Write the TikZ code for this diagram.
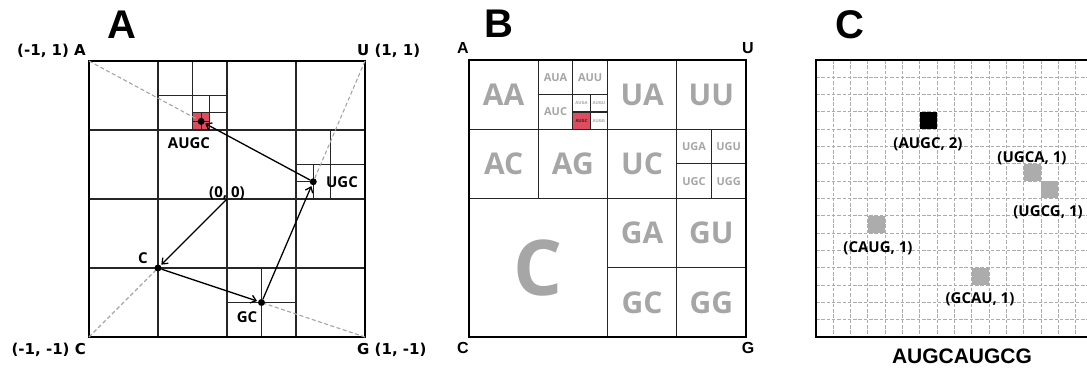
\documentclass[tikz,border=0pt]{standalone}
\usepackage{fontspec}
\usetikzlibrary{arrows.meta}
\newfontfamily\osans{Open Sans}
\newfontfamily\dvsans{DejaVu Sans}
\newfontfamily\lsans{Liberation Sans}
\definecolor{txtgray}{RGB}{166,166,166}
\definecolor{dashgray}{RGB}{165,165,165}
\definecolor{gridgray}{RGB}{172,172,172}
\definecolor{cellred}{RGB}{222,76,94}
\definecolor{sqgray}{RGB}{172,172,172}
\tikzset{
  frame/.style={line width=2.8pt},
  cell/.style={line width=1.15pt, draw=black!85},
  diag/.style={draw=dashgray, line width=1.1pt, dash pattern=on 4pt off 2.5pt},
  gridl/.style={draw=gridgray, line width=0.9pt, dash pattern=on 3.5pt off 1.8pt},
  dot/.style={circle, fill=black, inner sep=0pt, minimum size=7pt},
  arr/.style={line width=1.3pt, -{Straight Barb[length=5pt,width=8pt]}, shorten >=1pt},
  heading/.style={font=\lsans\bfseries\fontsize{40}{40}\selectfont, anchor=base, inner sep=0pt},
  corner/.style={font=\dvsans\bfseries\fontsize{15}{18}\selectfont, inner sep=0pt},
  cornerB/.style={font=\lsans\bfseries\fontsize{16}{18}\selectfont, anchor=base, inner sep=0pt},
  lab/.style={font=\osans\bfseries\fontsize{15}{18}\selectfont, anchor=base, inner sep=0pt},
  txtL/.style={text=txtgray, font=\osans\bfseries\fontsize{30}{30}\selectfont, inner sep=0pt},
  txtM/.style={text=txtgray, font=\osans\bfseries\fontsize{11}{11}\selectfont, inner sep=0pt},
  txtS/.style={text=txtgray, font=\osans\bfseries\fontsize{4.3}{4.3}\selectfont, inner sep=0pt},
  txtC/.style={text=txtgray, font=\osans\bfseries\fontsize{77}{77}\selectfont, inner sep=0pt},
  seq/.style={font=\lsans\bfseries\fontsize{21}{21}\selectfont, anchor=base, inner sep=0pt},
}
\begin{document}
\begin{tikzpicture}[x=1pt,y=-1pt]
\useasboundingbox (0,0) rectangle (1087,370);

% ---------------- Panel A ----------------
\node[heading] (hA) at (122,38) {A};
\begin{scope}[shift={(227,199)},x=138pt,y=138pt]
  \fill[cellred] (-0.25,0.5) rectangle (-0.125,0.625);
  \foreach \v in {-0.5,0,0.5} {
    \draw[cell] (\v,-1) -- (\v,1);
    \draw[cell] (-1,\v) -- (1,\v);
  }
  % AU
  \draw[cell] (-0.25,0.5) -- (-0.25,1);
  \draw[cell] (-0.5,0.75) -- (0,0.75);
  % AUG
  \draw[cell] (-0.125,0.5) -- (-0.125,0.75);
  \draw[cell] (-0.25,0.625) -- (0,0.625);
  % AUGC
  \draw[cell] (-0.1875,0.5) -- (-0.1875,0.625);
  \draw[cell] (-0.25,0.5625) -- (-0.125,0.5625);
  % UG
  \draw[cell] (0.75,0) -- (0.75,0.5);
  \draw[cell] (0.5,0.25) -- (1,0.25);
  % UGC
  \draw[cell] (0.625,0) -- (0.625,0.25);
  \draw[cell] (0.5,0.125) -- (0.625,0.125);
  % GC
  \draw[cell] (0.25,-1) -- (0.25,-0.5);
  \draw[cell] (0,-0.75) -- (0.5,-0.75);
  \draw[frame] (-1,-1) rectangle (1,1);
  \coordinate (cA) at (-1,1);
  \coordinate (cU) at (1,1);
  \coordinate (cC) at (-1,-1);
  \coordinate (cG) at (1,-1);
  \coordinate (o) at (0,0);
  \coordinate (qC) at (-0.5,-0.5);
  \coordinate (qGC) at (0.25,-0.75);
  \coordinate (qUGC) at (0.625,0.125);
  \coordinate (qAUGC) at (-0.1875,0.5625);
  \draw[diag] (cA) -- (qAUGC);
  \draw[diag] (cU) -- (qUGC);
  \draw[diag] (cC) -- (qC);
  \draw[diag] (cG) -- (qGC);
  \node[dot] (pC) at (qC) {};
  \node[dot] (pGC) at (qGC) {};
  \node[dot] (pUGC) at (qUGC) {};
  \node[dot] (pAUGC) at (qAUGC) {};
  \draw[arr] (o) -- (pC);
  \draw[arr] (pC) -- (pGC);
  \draw[arr] (pGC) -- (pUGC);
  \draw[arr] (pUGC) -- (pAUGC);
\end{scope}
\node[corner, anchor=base east] (lA) at (86,55) {(-1, 1) A};
\node[corner, anchor=base west] (lU) at (357,55) {U (1, 1)};
\node[corner, anchor=base east] (lC) at (86,354) {(-1, -1) C};
\node[corner, anchor=base west] (lG) at (357,354) {G (1, -1)};
\node[lab] (t00) at (227,197) {(0, 0)};
\node[lab] (tC) at (143,263) {C};
\node[lab] (tGC) at (247,322) {GC};
\node[lab] (tUGC) at (342,187) {UGC};
\node[lab] (tAUGC) at (189,148) {AUGC};

% ---------------- Panel B ----------------
\node[heading] (hB) at (499,37) {B};
\begin{scope}[shift={(607.5,198.5)},x=138.5pt,y=138.5pt]
  \fill[cellred] (-0.25,0.5) rectangle (-0.125,0.625);
  \draw[cell] (-0.5,0) -- (-0.5,1);
  \draw[cell] (0,-1) -- (0,1);
  \draw[cell] (0.5,-1) -- (0.5,1);
  \draw[cell] (-1,0.5) -- (1,0.5);
  \draw[cell] (-1,0) -- (1,0);
  \draw[cell] (0,-0.5) -- (1,-0.5);
  \draw[cell] (-0.25,0.5) -- (-0.25,1);
  \draw[cell] (-0.5,0.75) -- (0,0.75);
  \draw[cell] (-0.125,0.5) -- (-0.125,0.75);
  \draw[cell] (-0.25,0.625) -- (0,0.625);
  \draw[cell] (0.75,0) -- (0.75,0.5);
  \draw[cell] (0.5,0.25) -- (1,0.25);
  \draw[frame] (-1,-1) rectangle (1,1);
  \node[txtL] (bAA) at (-0.75,0.75) {AA};
  \node[txtM] (bAUA) at (-0.375,0.875) {AUA};
  \node[txtM] (bAUU) at (-0.125,0.875) {AUU};
  \node[txtM] (bAUC) at (-0.375,0.625) {AUC};
  \node[txtS] (bAUGA) at (-0.1875,0.6875) {AUGA};
  \node[txtS] (bAUGU) at (-0.0625,0.6875) {AUGU};
  \node[txtS, text=black!85] (bAUGC) at (-0.1875,0.5625) {AUGC};
  \node[txtS] (bAUGG) at (-0.0625,0.5625) {AUGG};
  \node[txtL] (bAC) at (-0.75,0.25) {AC};
  \node[txtL] (bAG) at (-0.25,0.25) {AG};
  \node[txtL] (bUA) at (0.25,0.75) {UA};
  \node[txtL] (bUU) at (0.75,0.75) {UU};
  \node[txtL] (bUC) at (0.25,0.25) {UC};
  \node[txtM] (bUGA) at (0.625,0.375) {UGA};
  \node[txtM] (bUGU) at (0.875,0.375) {UGU};
  \node[txtM] (bUGC) at (0.625,0.125) {UGC};
  \node[txtM] (bUGG) at (0.875,0.125) {UGG};
  \node[txtC] (bC) at (-0.5,-0.5) {C};
  \node[txtL] (bGA) at (0.25,-0.25) {GA};
  \node[txtL] (bGU) at (0.75,-0.25) {GU};
  \node[txtL] (bGC) at (0.25,-0.75) {GC};
  \node[txtL] (bGG) at (0.75,-0.75) {GG};
\end{scope}
\node[cornerB] (kA) at (463,53) {A};
\node[cornerB] (kU) at (748,53) {U};
\node[cornerB] (kC) at (463,353) {C};
\node[cornerB] (kG) at (748,353) {G};

% ---------------- Panel C ----------------
\node[heading] (hC) at (850,38) {C};
\begin{scope}
\clip (0,0) rectangle (1087,370);
\begin{scope}[shift={(816,60)},x=17.31pt,y=-17.31pt]
  \foreach \i in {1,...,15} {
    \draw[gridl] (\i,0) -- (\i,16);
    \draw[gridl] (0,\i) -- (16,\i);
  }
  \fill[black] (6,3) rectangle (7,4);
  \fill[sqgray] (12,6) rectangle (13,7);
  \fill[sqgray] (13,7) rectangle (14,8);
  \fill[sqgray] (3,9) rectangle (4,10);
  \fill[sqgray] (9,12) rectangle (10,13);
  \draw[frame] (0,0) rectangle (16,16);
\end{scope}
\end{scope}
\node[lab] (cAUGC) at (928,148) {(AUGC, 2)};
\node[lab] (cUGCA) at (1032,162) {(UGCA, 1)};
\node[lab] (cUGCG) at (1048,216) {(UGCG, 1)};
\node[lab] (cCAUG) at (878,252) {(CAUG, 1)};
\node[lab] (cGCAU) at (980,303) {(GCAU, 1)};
\node[seq] (cseq) at (962,363) {AUGCAUGCG};
\end{tikzpicture}
\end{document}
